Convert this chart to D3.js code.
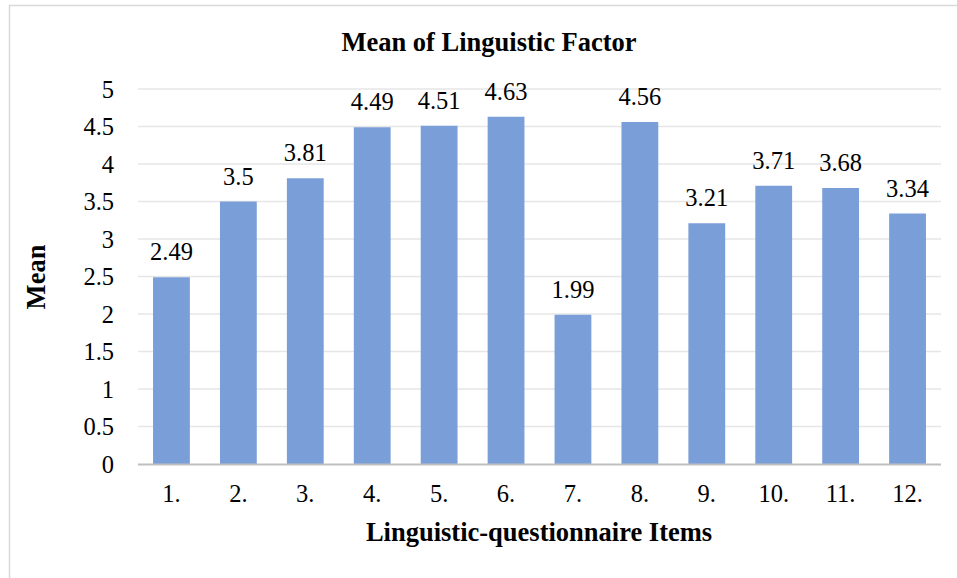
<!DOCTYPE html>
<html lang="en">
  <head>
    <meta charset="utf-8">
    <title>Mean of Linguistic Factor</title>
    <style type="text/css">
      body{
        margin: 0;
        background-color: white;
      }
      svg text{
        font-family: 'Liberation Serif', 'Times New Roman', serif;
        fill: black;
      }
    </style>
  </head>
  <body>
    <div id='svg_container'></div>

    <script src="https://d3js.org/d3.v7.min.js"></script>
    <script type="text/javascript">

      const items = ['1.', '2.', '3.', '4.', '5.', '6.', '7.', '8.', '9.', '10.', '11.', '12.'];
      const means = [2.49, 3.5, 3.81, 4.49, 4.51, 4.63, 1.99, 4.56, 3.21, 3.71, 3.68, 3.34];
      const yTicks = [0, 0.5, 1, 1.5, 2, 2.5, 3, 3.5, 4, 4.5, 5];

      const w = 957;
      const h = 578;

      const pLeft = 138, pRight = 941, pTop = 89, pBottom = 464;
      const barColor = '#7a9ed7';
      const numSize = '24.5px';
      const titleSize = '26.5px';

      var svg = d3.select('#svg_container').append('svg').attr('width', w).attr('height', h);

      // outer frame (only top and left edges show)
      svg.append('path').attr('d', 'M9.5,' + h + ' V5.5 H' + w)
        .attr('fill', 'none').attr('stroke', '#d9d9d9').attr('stroke-width', 1.5);

      var scaleX = d3.scaleBand().domain(items).range([pLeft, pRight]).paddingInner(0.45).paddingOuter(0.225);
      var scaleY = d3.scaleLinear().domain([0, 5]).range([pBottom, pTop]);

      // gridlines
      svg.append('g').selectAll('line').data(yTicks.slice(1)).enter().append('line')
        .attr('x1', pLeft).attr('x2', pRight)
        .attr('y1', d => scaleY(d)).attr('y2', d => scaleY(d))
        .attr('stroke', '#e6e6e6').attr('stroke-width', 1.3);

      var yAxis = d3.axisLeft(scaleY).tickValues(yTicks).tickSize(0).tickPadding(0).tickFormat(d => String(d));
      svg.append('g').attr('id', 'y-axis').attr('transform', 'translate(114,0)').call(yAxis)
        .call(g => g.select('.domain').remove())
        .selectAll('text').style('font-size', numSize).attr('dy', '0.33em');

      svg.selectAll('rect.bar').data(means).enter().append('rect').attr('class', 'bar')
        .attr('x', (d, i) => scaleX(items[i]))
        .attr('width', scaleX.bandwidth())
        .attr('y', d => scaleY(d))
        .attr('height', d => pBottom - scaleY(d))
        .attr('fill', barColor);

      // value labels
      svg.selectAll('text.val').data(means).enter().append('text').attr('class', 'val')
        .attr('x', (d, i) => scaleX(items[i]) + scaleX.bandwidth() / 2)
        .attr('y', d => scaleY(d) - 17)
        .attr('text-anchor', 'middle').style('font-size', numSize)
        .text(d => String(d));

      // baseline
      svg.append('line').attr('x1', pLeft).attr('x2', pRight).attr('y1', pBottom + 0.5).attr('y2', pBottom + 0.5)
        .attr('stroke', '#bfbfbf').attr('stroke-width', 2.2);

      var xAxis = d3.axisBottom(scaleX).tickSize(0).tickPadding(0);
      svg.append('g').attr('id', 'x-axis').attr('transform', 'translate(0,' + pBottom + ')').call(xAxis)
        .call(g => g.select('.domain').remove())
        .selectAll('text').style('font-size', numSize).attr('dy', null).attr('y', 38);

      svg.append('text').attr('x', 489).attr('y', 51).attr('text-anchor', 'middle')
        .style('font-size', titleSize).style('font-weight', 'bold').text('Mean of Linguistic Factor');

      svg.append('text').attr('x', 539).attr('y', 541).attr('text-anchor', 'middle')
        .style('font-size', titleSize).style('font-weight', 'bold').text('Linguistic-questionnaire Items');

      svg.append('text').attr('transform', 'translate(45,' + 277 + ') rotate(-90)').attr('text-anchor', 'middle')
        .style('font-size', titleSize).style('font-weight', 'bold').text('Mean');

    </script>
  </body>
</html>
